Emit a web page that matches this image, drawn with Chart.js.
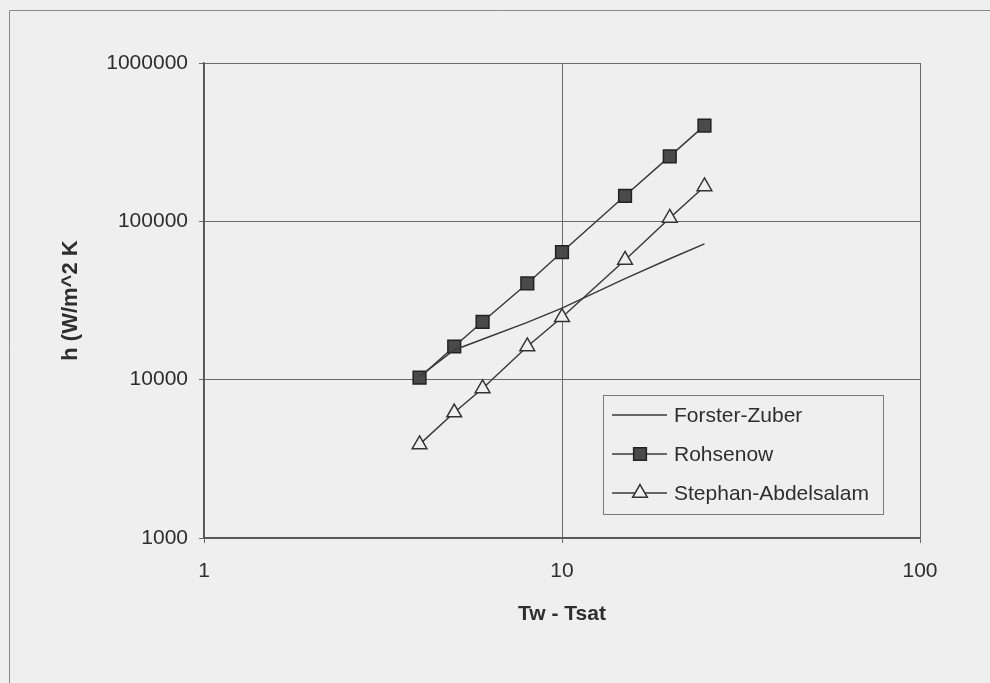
<!DOCTYPE html>
<html>
<head>
<meta charset="utf-8">
<script src="https://cdn.jsdelivr.net/npm/chart.js@4.4.1/dist/chart.umd.min.js"></script>
<style>
  html, body { margin: 0; padding: 0; background: #efefef; }
  #wrap { position: relative; width: 990px; height: 683px; }
</style>
</head>
<body>
<div id="wrap"><canvas id="myChart" width="990" height="683"></canvas></div>
<script>
// wall superheat (K)
const deltaT = [4, 5, 6, 8, 10, 15, 20, 25];
// heat transfer coefficient h (W/m^2 K)
const forsterZuber = [10500, 15400, 18000, 23000, 28300, 43500, 58000, 72000];
const rohsenow = [10300, 16200, 23200, 40500, 64000, 145000, 257000, 402000];
const stephanAbdelsalam = [3900, 6200, 8800, 16200, 24800, 57000, 105000, 166000];

const xTicks = [1, 10, 100];
const yTicks = [1000, 10000, 100000, 1000000];

const ink = "#3a3a3a";
const fontFamily = "'Liberation Sans', Arial, Helvetica, sans-serif";

function points(values) {
  return deltaT.map((t, i) => ({ x: t, y: values[i] }));
}

// outer frame of the scanned figure (only top and left edges visible)
const framePlugin = {
  id: "frame",
  beforeDraw(chart) {
    const ctx = chart.ctx;
    ctx.save();
    ctx.strokeStyle = "#8a8a8a";
    ctx.lineWidth = 1;
    ctx.beginPath();
    ctx.moveTo(9.5, chart.height);
    ctx.lineTo(9.5, 10.5);
    ctx.lineTo(chart.width, 10.5);
    ctx.stroke();
    ctx.restore();
  },
};

// legend box drawn inside the plot, lower right
const boxLegend = {
  id: "boxLegend",
  afterDraw(chart) {
    const ctx = chart.ctx;
    const area = chart.chartArea;
    const left = area.right - 317;
    const top = area.bottom - 143;
    const w = 280;
    const h = 119;
    ctx.save();
    ctx.fillStyle = "#efefef";
    ctx.fillRect(left, top, w, h);
    ctx.strokeStyle = "#7a7a7a";
    ctx.lineWidth = 1;
    ctx.strokeRect(left + 0.5, top + 0.5, w, h);

    ctx.font = "21px " + fontFamily;
    ctx.textBaseline = "middle";
    chart.data.datasets.forEach((ds, i) => {
      const y = top + 20 + i * 39;
      ctx.strokeStyle = ds.borderColor;
      ctx.lineWidth = ds.borderWidth;
      ctx.beginPath();
      ctx.moveTo(left + 9, y);
      ctx.lineTo(left + 64, y);
      ctx.stroke();
      if (ds.pointRadius > 0) {
        ctx.fillStyle = ds.pointBackgroundColor;
        ctx.strokeStyle = ds.pointBorderColor;
        ctx.lineWidth = ds.pointBorderWidth;
        Chart.helpers.drawPoint(ctx, { pointStyle: ds.pointStyle, radius: ds.pointRadius, rotation: 0, borderWidth: ds.pointBorderWidth }, left + 37, y);
      }
      ctx.fillStyle = "#2e2e2e";
      ctx.fillText(ds.label, left + 71, y + 1);
    });
    ctx.restore();
  },
};

new Chart(document.getElementById("myChart").getContext("2d"), {
  type: "line",
  data: {
    datasets: [
      {
        label: "Forster-Zuber",
        data: points(forsterZuber),
        borderColor: ink,
        borderWidth: 1.5,
        pointRadius: 0,
      },
      {
        label: "Rohsenow",
        data: points(rohsenow),
        borderColor: ink,
        borderWidth: 1.5,
        pointStyle: "rect",
        pointRadius: 9,
        pointBackgroundColor: "#4a4a4a",
        pointBorderColor: "#222",
        pointBorderWidth: 1.5,
      },
      {
        label: "Stephan-Abdelsalam",
        data: points(stephanAbdelsalam),
        borderColor: ink,
        borderWidth: 1.5,
        pointStyle: "triangle",
        pointRadius: 8.5,
        pointBackgroundColor: "#efefef",
        pointBorderColor: "#333",
        pointBorderWidth: 1.5,
      },
    ],
  },
  options: {
    responsive: false,
    animation: false,
    layout: { padding: { left: 54, top: 63, right: 70, bottom: 52 } },
    plugins: {
      legend: { display: false },
      tooltip: { enabled: false },
    },
    scales: {
      x: {
        type: "logarithmic",
        min: 1,
        max: 100,
        afterBuildTicks: (scale) => {
          scale.ticks = xTicks.map((v) => ({ value: v }));
        },
        afterFit: (scale) => {
          scale.height = 93;
        },
        ticks: {
          color: "#2e2e2e",
          font: { family: fontFamily, size: 21 },
          padding: 16,
          maxRotation: 0,
          callback: (v) => String(v),
        },
        grid: { color: "#6a6a6a", lineWidth: 1, tickLength: 5 },
        border: { color: "#555", width: 1.5 },
        title: {
          display: true,
          text: "Tw - Tsat",
          color: "#2e2e2e",
          font: { family: fontFamily, size: 21, weight: "bold" },
        },
      },
      y: {
        type: "logarithmic",
        min: 1000,
        max: 1000000,
        afterBuildTicks: (scale) => {
          scale.ticks = yTicks.map((v) => ({ value: v }));
        },
        afterFit: (scale) => {
          scale.width = 150;
        },
        ticks: {
          color: "#2e2e2e",
          font: { family: fontFamily, size: 21 },
          padding: 11,
          callback: (v) => String(v),
        },
        grid: { color: "#6a6a6a", lineWidth: 1, tickLength: 5 },
        border: { color: "#555", width: 1.5 },
        title: {
          display: true,
          text: "h (W/m^2 K",
          color: "#2e2e2e",
          font: { family: fontFamily, size: 22, weight: "bold" },
        },
      },
    },
  },
  plugins: [framePlugin, boxLegend],
});
</script>
</body>
</html>
